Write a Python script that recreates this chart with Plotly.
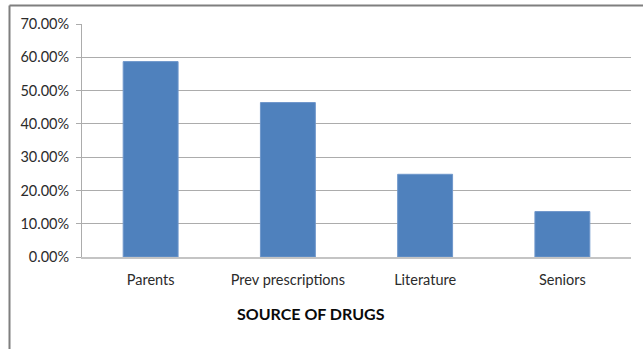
import plotly.graph_objects as go

# Source of drugs survey: share of respondents per source
categories = ["Parents", "Prev prescriptions", "Literature", "Seniors"]
shares = [0.587, 0.464, 0.2485, 0.1365]
tick_values = [0, 0.1, 0.2, 0.3, 0.4, 0.5, 0.6, 0.7]
tick_labels = ["0.00%", "10.00%", "20.00%", "30.00%", "40.00%", "50.00%", "60.00%", "70.00%"]

W, H = 643, 349
L, R, T, B = 82, 12, 24, 92

fig = go.Figure(
    go.Bar(
        x=categories,
        y=shares,
        width=0.4,
        marker=dict(color="#4F81BD", line=dict(color="#6f97cb", width=1)),
    )
)

pw = W - L - R
ph = H - T - B

fig.update_layout(
    width=W,
    height=H,
    margin=dict(l=L, r=R, t=T, b=B, pad=0),
    paper_bgcolor="white",
    plot_bgcolor="white",
    showlegend=False,
    font=dict(family="Lato, Open Sans, sans-serif", size=14.5, color="#2b2b2b"),
    bargap=0.6,
    xaxis=dict(
        showgrid=False,
        showline=True,
        linecolor="#c4c4c4",
        linewidth=2,
        ticks="",
        tickfont=dict(size=14.5, color="#2b2b2b"),
        ticklabelstandoff=9,
    ),
    yaxis=dict(
        range=[0, 0.7],
        tickvals=tick_values,
        ticktext=tick_labels,
        showgrid=True,
        gridcolor="#acacac",
        gridwidth=1,
        showline=True,
        linecolor="#acacac",
        linewidth=1,
        ticks="outside",
        ticklen=5,
        tickcolor="#acacac",
        tickfont=dict(size=14.5, color="#2b2b2b"),
        ticklabelstandoff=4,
        zeroline=False,
    ),
    annotations=[
        dict(
            text="<b>SOURCE OF DRUGS</b>",
            xref="paper",
            yref="paper",
            x=(311 - L) / pw,
            y=(H - B - 313) / ph,
            xanchor="center",
            yanchor="middle",
            showarrow=False,
            font=dict(size=16, color="#0a0a0a"),
        )
    ],
    shapes=[
        # chart frame: top and left edges
        dict(type="line", xref="paper", yref="paper",
             x0=(9.5 - L) / pw, x1=(W + 5 - L) / pw,
             y0=(H - B - 5.5) / ph, y1=(H - B - 5.5) / ph,
             line=dict(color="#7f7f7f", width=2)),
        dict(type="line", xref="paper", yref="paper",
             x0=(9.5 - L) / pw, x1=(9.5 - L) / pw,
             y0=(H - B - 5.5) / ph, y1=(H - B - H - 5) / ph,
             line=dict(color="#7f7f7f", width=2)),
    ],
)

fig.write_html("out.html")
